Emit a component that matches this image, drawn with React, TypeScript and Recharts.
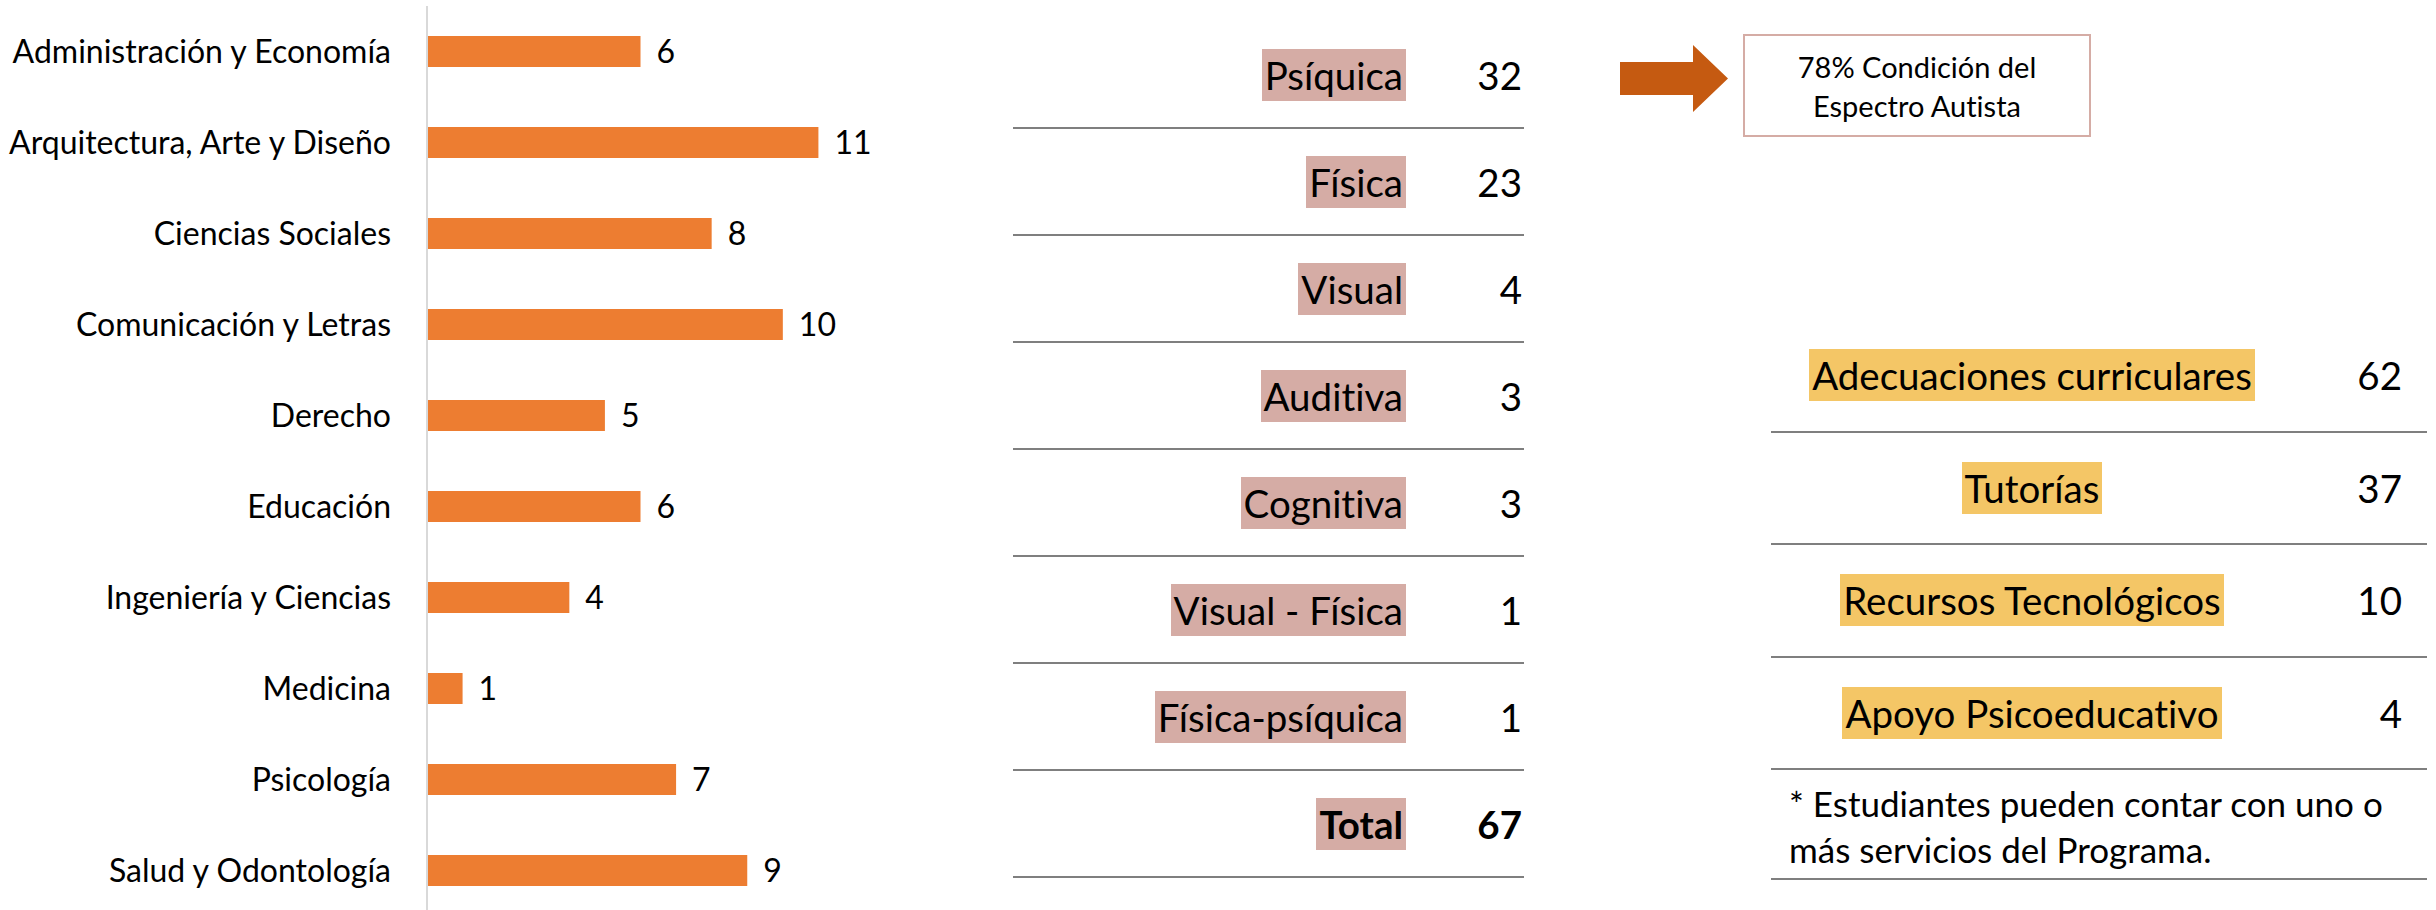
import React from 'react';
import { BarChart, Bar, XAxis, YAxis, LabelList } from 'recharts';

// Students by faculty
const faculties = [
  'Administración y Economía',
  'Arquitectura, Arte y Diseño',
  'Ciencias Sociales',
  'Comunicación y Letras',
  'Derecho',
  'Educación',
  'Ingeniería y Ciencias',
  'Medicina',
  'Psicología',
  'Salud y Odontología'
];
const facultyCounts = [6, 11, 8, 10, 5, 6, 4, 1, 7, 9];

// Students by type of disability
const disabilityTypes = ['Psíquica', 'Física', 'Visual', 'Auditiva', 'Cognitiva', 'Visual - Física', 'Física-psíquica'];
const disabilityCounts = [32, 23, 4, 3, 3, 1, 1];
const disabilityTotal = 67;

// Services of the program
const services = ['Adecuaciones curriculares', 'Tutorías', 'Recursos Tecnológicos', 'Apoyo Psicoeducativo'];
const serviceCounts = [62, 37, 10, 4];

const FONT = 'Lato, "Noto Sans", sans-serif';
const COLORS = {
  bar: '#ED7D31',
  axis: '#D9D9D9',
  rose: '#D5ACA5',
  gold: '#F4C666',
  arrow: '#C55A11',
  rule: '#7F7F7F',
  text: '#000'
};

const facultyData = faculties.map((name, i) => ({ name, value: facultyCounts[i] }));

const Highlight = ({ text, color, bold }: { text: string; color: string; bold?: boolean }) => (
  <span style={{
    display: 'inline-block',
    background: color,
    height: 52,
    lineHeight: '52px',
    padding: '0 3px',
    fontWeight: bold ? 700 : 400
  }}>{text}</span>
);

export default function App() {
  const midRows = [
    ...disabilityTypes.map((label, i) => ({ label, value: disabilityCounts[i], bold: false })),
    { label: 'Total', value: disabilityTotal, bold: true }
  ];

  return (
    <div style={{
      position: 'absolute', left: 0, top: 0, width: 2436, height: 910, overflow: 'hidden',
      background: '#fff', fontFamily: FONT, color: COLORS.text, fontVariantLigatures: 'none'
    }}>
      {/* Faculty bar chart */}
      <div style={{ position: 'absolute', left: 0, top: 0 }}>
        <BarChart
          width={880}
          height={916}
          data={facultyData}
          layout="vertical"
          margin={{ top: 6, right: 26, bottom: 0, left: 0 }}
          barCategoryGap={0}
        >
          <XAxis type="number" domain={[0, 12]} hide />
          <YAxis
            type="category"
            dataKey="name"
            width={427}
            axisLine={{ stroke: COLORS.axis, strokeWidth: 2 }}
            tickLine={false}
            tickSize={0}
            tickMargin={36}
            interval={0}
            tick={{ fontSize: 32, fill: COLORS.text, fontFamily: FONT, style: { fontVariantLigatures: 'none' } }}
          />
          <Bar dataKey="value" fill={COLORS.bar} barSize={31} isAnimationActive={false}>
            <LabelList dataKey="value" position="right" offset={16} style={{ fontSize: 32, fill: COLORS.text, fontFamily: FONT }} />
          </Bar>
        </BarChart>
      </div>

      {/* Disability table */}
      {midRows.map((row, i) => (
        <div key={row.label} style={{
          position: 'absolute',
          left: 1013,
          top: 22 + i * 107,
          width: 511,
          height: 107,
          boxSizing: 'border-box',
          borderBottom: `2px solid ${COLORS.rule}`,
          display: 'flex',
          alignItems: 'center',
          fontSize: 38.5
        }}>
          <div style={{ width: 393, textAlign: 'right' }}>
            <Highlight text={row.label} color={COLORS.rose} bold={row.bold} />
          </div>
          <div style={{ flex: 1, textAlign: 'right', paddingRight: 2, fontWeight: row.bold ? 700 : 400 }}>{row.value}</div>
        </div>
      ))}

      {/* Arrow and note box */}
      <svg style={{ position: 'absolute', left: 1620, top: 45 }} width={110} height={70}>
        <polygon points="0,17 73,17 73,0 108,33.5 73,67 73,50 0,50" fill={COLORS.arrow} />
      </svg>
      <div style={{
        position: 'absolute',
        left: 1743,
        top: 34,
        width: 348,
        height: 103,
        boxSizing: 'border-box',
        border: `2px solid ${COLORS.rose}`,
        display: 'flex',
        alignItems: 'center',
        justifyContent: 'center',
        textAlign: 'center',
        fontSize: 29,
        lineHeight: '39px'
      }}>
        <div>78% Condición del<br />Espectro Autista</div>
      </div>

      {/* Services table */}
      {services.map((label, i) => (
        <div key={label} style={{
          position: 'absolute',
          left: 1771,
          top: 320 + i * 112.5,
          width: 656,
          height: 112.5,
          boxSizing: 'border-box',
          borderBottom: `2px solid ${COLORS.rule}`,
          display: 'flex',
          alignItems: 'center',
          fontSize: 38.5
        }}>
          <div style={{ width: 522, textAlign: 'center' }}>
            <Highlight text={label} color={COLORS.gold} />
          </div>
          <div style={{ flex: 1, textAlign: 'right', paddingRight: 25 }}>{serviceCounts[i]}</div>
        </div>
      ))}
      <div style={{
        position: 'absolute',
        left: 1771,
        top: 770,
        width: 656,
        height: 110,
        boxSizing: 'border-box',
        borderBottom: `2px solid ${COLORS.rule}`,
        padding: '10px 0 0 18px',
        fontSize: 35,
        lineHeight: '46px',
        whiteSpace: 'nowrap'
      }}>
        * Estudiantes pueden contar con uno o<br />más servicios del Programa.
      </div>
    </div>
  );
}
